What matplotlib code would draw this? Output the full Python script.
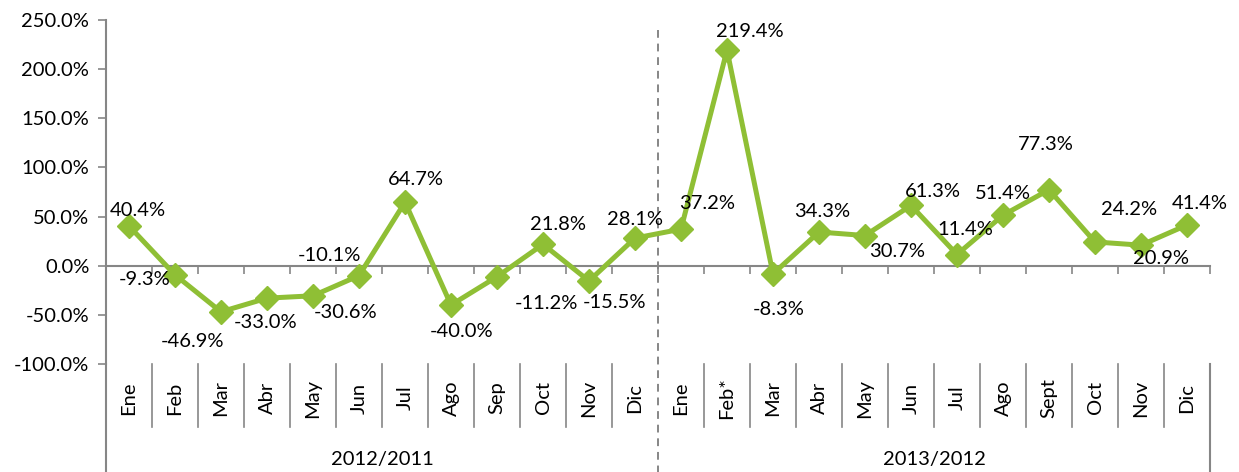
import numpy as np
import matplotlib
matplotlib.use("Agg")
from matplotlib import pyplot as plt
import matplotlib.transforms as mtransforms

months_1 = ["Ene", "Feb", "Mar", "Abr", "May", "Jun", "Jul", "Ago", "Sep", "Oct", "Nov", "Dic"]
months_2 = ["Ene", "Feb*", "Mar", "Abr", "May", "Jun", "Jul", "Ago", "Sept", "Oct", "Nov", "Dic"]
years = ["2012/2011", "2013/2012"]

vals_1 = [40.4, -9.3, -46.9, -33.0, -30.6, -10.1, 64.7, -40.0, -11.2, 21.8, -15.5, 28.1]
vals_2 = [37.2, 219.4, -8.3, 34.3, 30.7, 61.3, 11.4, 51.4, 77.3, 24.2, 20.9, 41.4]

# label offsets in pixels (dx, dy), dy positive = up
label_off = [(9, 16), (-30, -5), (-28, -30), (-1, -24), (33, -17), (-30, 20),
             (11, 23), (11, -26), (49, -27), (15, 20), (26, -22), (0, 19),
             (26, 26), (23, 19), (6, -36), (3, 21), (32, -16), (22, 14),
             (8, 25), (0, 22), (-3, 45), (34, 32), (20, -13), (13, 22)]

months = months_1 + months_2
vals = vals_1 + vals_2
n = len(vals)
x = np.arange(n) + 0.5

green = "#8fbf35"
axis_grey = "#868686"
fs = 14.5

plt.rcParams["font.family"] = ["Lato", "DejaVu Sans"]
plt.rcParams["font.size"] = fs

fig = plt.figure(figsize=(12.39, 4.72), dpi=100)
ax = fig.add_axes([106 / 1239, 1 - 364 / 472, (1210 - 106) / 1239, 344 / 472])

ax.plot(x, vals, color=green, lw=3.6, marker="D", ms=12.5, mfc=green, mec=green, zorder=3)

for xi, v, (dx, dy) in zip(x, vals, label_off):
    ax.annotate("%.1f%%" % v, (xi, v), xytext=(dx, dy), textcoords="offset pixels",
                ha="center", va="center", fontsize=fs, zorder=4)

ax.set_xlim(0, n)
ax.set_ylim(-100, 250)
ax.set_yticks(np.arange(-100, 251, 50))
ax.set_yticklabels(["%.1f%%" % t for t in np.arange(-100, 251, 50)])
ax.set_xticks(np.arange(0, n + 1))
ax.set_xticklabels([])

for s in ["top", "right"]:
    ax.spines[s].set_visible(False)
ax.spines["bottom"].set_position(("data", 0))
ax.spines["bottom"].set_color(axis_grey)
ax.spines["left"].set_color(axis_grey)
ax.spines["bottom"].set_linewidth(1.5)
ax.spines["left"].set_linewidth(1.5)
ax.tick_params(axis="x", direction="out", length=6, color=axis_grey, width=1.2)
ax.tick_params(axis="y", direction="out", length=6, color=axis_grey, width=1.2, pad=6)

trans = mtransforms.blended_transform_factory(ax.transData, ax.transAxes)
fig_bottom = -108 / 344

# multi-level category axis
for i in range(n + 1):
    if i in (0, n):
        ax.plot([i, i], [0, fig_bottom], transform=trans, color=axis_grey, lw=1.5, clip_on=False)
    elif i == 12:
        pass
    else:
        ax.plot([i, i], [0, -63 / 344], transform=trans, color=axis_grey, lw=1.2, clip_on=False)

for xi, m in zip(x, months):
    ax.text(xi, -34 / 344, m, transform=trans, rotation=90, ha="center", va="center")

for k, yr in enumerate(years):
    ax.text(k * 12 + 6, -96 / 344, yr, transform=trans, ha="center", va="center")

# dashed separator between the two periods
ax.plot([12, 12], [0.97, fig_bottom], transform=trans, color=axis_grey, lw=1.4,
        ls=(0, (4, 3)), clip_on=False)

fig.savefig("out.png", dpi=100)
